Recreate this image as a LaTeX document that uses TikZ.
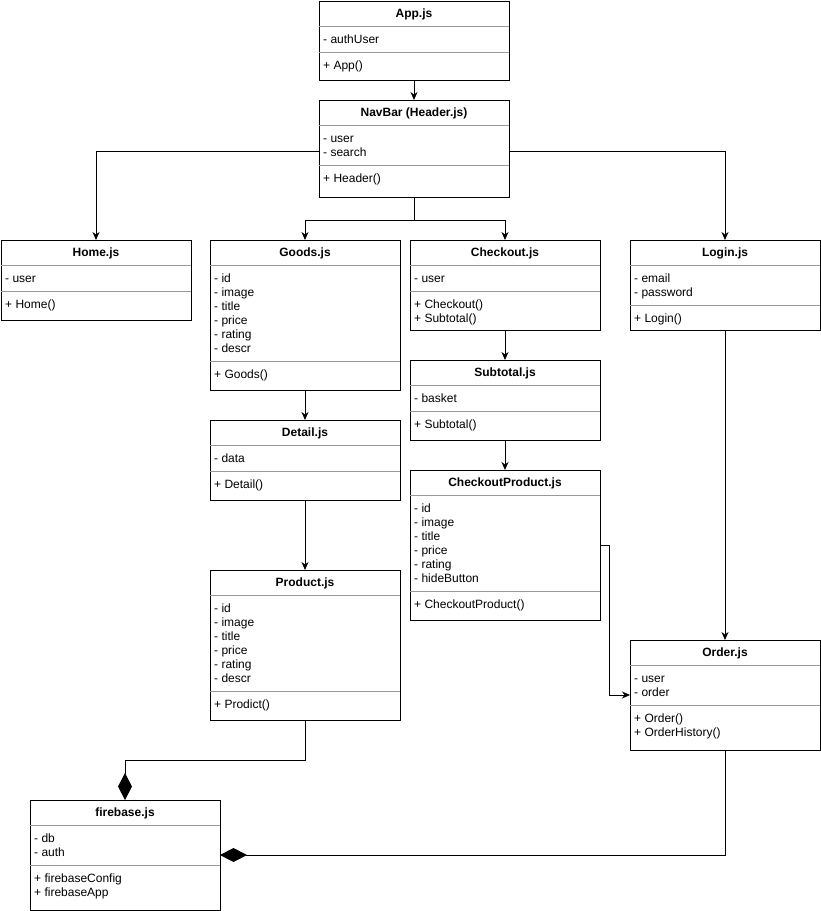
\documentclass[tikz,border=0pt]{standalone}
\usepackage{fontspec}
\setmainfont{Liberation Sans}
\usetikzlibrary{arrows.meta,calc}

\newcommand{\classfont}{\fontsize{12}{14}\selectfont}

\tikzset{
  cls/.style={draw=black, line width=1pt, fill=white, inner sep=0pt, outer sep=0pt,
              anchor=north west, minimum width=190pt},
  sepline/.style={draw=black!40, line width=0.9pt},
  ttl/.style={font=\classfont\bfseries, anchor=base, inner sep=0pt},
  mem/.style={font=\classfont, anchor=base west, inner sep=0pt},
  conn/.style={line width=1pt, -{Stealth[length=8pt,width=7pt,inset=2.5pt]}},
  comp/.style={line width=1pt, -{Diamond[length=27pt,width=14pt]}},
}

% #1 name, #2 left, #3 top, #4 height, #5 number of attributes,
% #6 title, #7 attributes, #8 operations
\newcommand{\umlclass}[8]{%
  \node[cls, minimum height=#4pt] (#1) at (#2,#3) {};
  \node[ttl] (#1-t) at ($(#1.north)+(0,16)$) {#6};
  \draw[sepline] ([yshift=-25pt]#1.north west) -- ([yshift=-25pt]#1.north east);
  \pgfmathsetmacro\sepb{37+14*#5}
  \draw[sepline] ([yshift=-\sepb pt]#1.north west) -- ([yshift=-\sepb pt]#1.north east);
  \foreach \t [count=\i] in {#7}
    \node[mem] (#1-a\i) at ($(#1.north west)+(4,{42+14*(\i-1)})$) {\t};
  \foreach \t [count=\i] in {#8}
    \node[mem] (#1-m\i) at ($(#1.north west)+(4,{\sepb+17+14*(\i-1)})$) {\t};
}

\begin{document}
\begin{tikzpicture}[x=1pt, y=-1pt, font=\classfont]
\useasboundingbox (0,0) rectangle (821,911);

\umlclass{app}{319}{1}{79}{1}{App.js}{- authUser}{+ App()}
\umlclass{nav}{319}{100}{97}{2}{NavBar (Header.js)}{- user,- search}{+ Header()}
\umlclass{home}{1}{240}{80}{1}{Home.js}{- user}{+ Home()}
\umlclass{goods}{210}{240}{150}{6}{Goods.js}{- id,- image,- title,- price,- rating,- descr}{+ Goods()}
\umlclass{checkout}{410}{240}{90}{1}{Checkout.js}{- user}{+ Checkout(),+ Subtotal()}
\umlclass{login}{630}{240}{90}{2}{Login.js}{- email,- password}{+ Login()}
\umlclass{subtotal}{410}{360}{80}{1}{Subtotal.js}{- basket}{+ Subtotal()}
\umlclass{detail}{210}{420}{80}{1}{Detail.js}{- data}{+ Detail()}
\umlclass{cprod}{410}{470}{150}{6}{CheckoutProduct.js}{- id,- image,- title,- price,- rating,- hideButton}{+ CheckoutProduct()}
\umlclass{product}{210}{570}{150}{6}{Product.js}{- id,- image,- title,- price,- rating,- descr}{+ Prodict()}
\umlclass{order}{630}{640}{110}{2}{Order.js}{- user,- order}{+ Order(),+ OrderHistory()}
\umlclass{fb}{30}{800}{110}{2}{firebase.js}{- db,- auth}{+ firebaseConfig,+ firebaseApp}

% navigation
\draw[conn] (app.south) -- (nav.north);
\draw[conn] ([yshift=-3pt]nav.west) -| (home.north);
\draw[conn] ([yshift=-3pt]nav.east) -| (login.north);
\coordinate (split) at ($(nav.south)+(0,23)$);
\draw[conn] (nav.south) -- (split) -| (goods.north);
\draw[conn] (split) -| (checkout.north);
\draw[conn] (goods.south) -- (detail.north);
\draw[conn] (detail.south) -- (product.north);
\draw[conn] (checkout.south) -- (subtotal.north);
\draw[conn] (subtotal.south) -- (cprod.north);
\draw[conn] (login.south) -- (order.north);
\draw[conn] (cprod.east) -- ++(9,0) |- (order.west);

% composition with firebase
\draw[comp] (product.south) -- ++(0,40) -| (fb.north);
\draw[comp] (order.south) |- (fb.east);
\end{tikzpicture}
\end{document}
